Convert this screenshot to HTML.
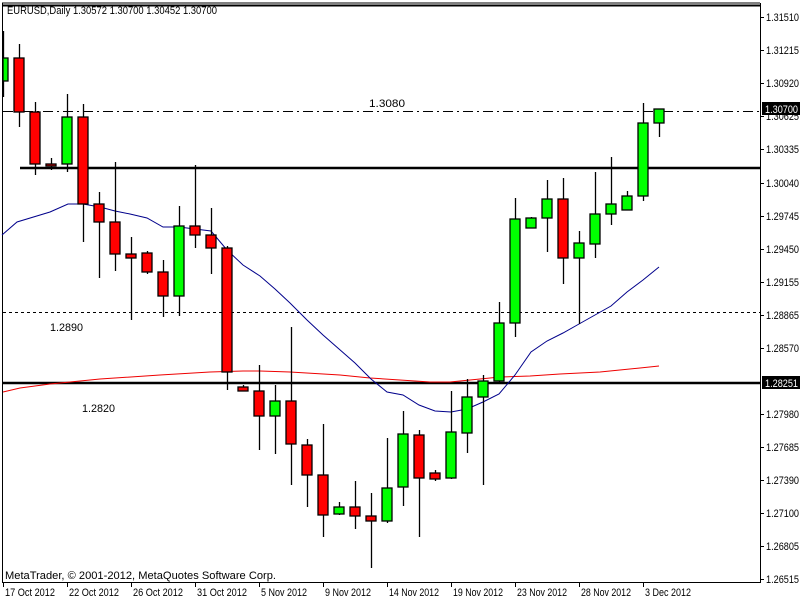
<!DOCTYPE html>
<html><head><meta charset="utf-8"><style>
html,body{margin:0;padding:0;background:#fff;}
svg{display:block;}
text{font-family:"Liberation Sans",sans-serif;font-size:11px;fill:#000;}
</style></head><body>
<svg width="800" height="600" viewBox="0 0 800 600" xmlns="http://www.w3.org/2000/svg">
<rect x="0" y="0" width="800" height="600" fill="#fff"/>
<line x1="2" y1="3" x2="760" y2="3" stroke="#000" stroke-width="1"/>
<line x1="2" y1="5.5" x2="760" y2="5.5" stroke="#000" stroke-width="2"/>
<line x1="2.5" y1="3" x2="2.5" y2="582" stroke="#000"/>
<line x1="760.5" y1="3" x2="760.5" y2="582" stroke="#000"/>
<line x1="2" y1="582.5" x2="761" y2="582.5" stroke="#000"/>
<line x1="3" y1="111.5" x2="760" y2="111.5" stroke="#000" stroke-dasharray="10,4,2,4"/>
<line x1="20" y1="168" x2="760" y2="168" stroke="#000" stroke-width="2.5"/>
<line x1="3" y1="312.5" x2="760" y2="312.5" stroke="#000" stroke-dasharray="3,3"/>
<line x1="3" y1="383" x2="760" y2="383" stroke="#000" stroke-width="2.5"/>
<text x="369" y="107" textLength="36" lengthAdjust="spacingAndGlyphs">1.3080</text>
<text x="50" y="331" textLength="33" lengthAdjust="spacingAndGlyphs">1.2890</text>
<text x="82" y="412" textLength="33" lengthAdjust="spacingAndGlyphs">1.2820</text>
<polyline fill="none" stroke="#e00" stroke-width="1" points="3,392 20,388 50,384 100,379 160,375 210,372 243,371 260,371 290,372 340,375 370,378 400,380 430,382 450,382 470,380 500,377 530,376 560,374 600,372 640,368 659,366"/>
<polyline fill="none" stroke="#00008b" stroke-width="1" points="2,235 17,222 50,212 68,204 83,204 100,207 115,211 130,214 147,218 163,227 179,227 195,229 211,231 227,250 243,265 260,276 275,289 290,303 307,320 323,335 339,349 355,363 371,379 387,392 403,395 419,405 435,411 451,412 467,409 483,402 499,394 515,375 531,352 547,341 563,333 579,324 595,315 611,306 627,292 643,280 659,267"/>
<g stroke="#000" stroke-width="1.3" id="c"></g>
<text x="7" y="14" textLength="210" lengthAdjust="spacingAndGlyphs">EURUSD,Daily  1.30572 1.30700 1.30452 1.30700</text>
<text x="5" y="579" textLength="271" lengthAdjust="spacingAndGlyphs">MetaTrader, © 2001-2012, MetaQuotes Software Corp.</text>
<g id="ax"></g>
<rect x="762" y="102" width="38" height="13" fill="#000"/>
<text x="765" y="113" style="fill:#fff" textLength="33" lengthAdjust="spacingAndGlyphs">1.30700</text>
<rect x="762" y="376" width="38" height="13" fill="#000"/>
<text x="765" y="387" style="fill:#fff" textLength="33" lengthAdjust="spacingAndGlyphs">1.28251</text>
<g id="dx"></g>
</svg>
<script>
var C=[[3,58,81,31,97,1],[19,58,112,44,127,0],[35,112,164,102,175,0],[51,164,166,158,170,0],[67,117,164,94,172,1],[83,117,204,104,242,0],[99,204,222,192,278,0],[115,222,254,162,271,0],[131,254,258,237,320,0],[147,253,272,251,274,0],[163,272,296,260,317,0],[179,226,296,206,316,1],[195,226,235,165,248,0],[211,235,248,208,274,0],[227,248,372,246,390,0],[243,387,391,385,391,0],[259,391,416,365,450,0],[275,401,416,385,454,1],[291,401,444,327,485,0],[307,445,475,439,507,0],[323,475,515,424,537,0],[339,507,514,502,515,1],[355,507,516,481,529,0],[371,516,521,493,568,0],[387,488,521,438,523,1],[403,434,487,411,506,1],[419,435,478,430,537,0],[435,473,479,470,481,0],[451,432,478,391,479,1],[467,397,433,379,453,1],[483,381,397,375,485,1],[499,323,381,302,382,1],[515,219,323,198,337,1],[531,218,228,217,228,1],[547,199,218,180,252,1],[563,199,258,178,284,0],[579,243,258,231,324,1],[595,214,244,172,258,1],[611,204,214,157,225,1],[627,196,210,191,210,1],[643,123,196,103,201,1],[659,109,123,109,137,1]];
var ns="http://www.w3.org/2000/svg",g=document.getElementById("c");
function el(t,a,p){var e=document.createElementNS(ns,t);for(var k in a)e.setAttribute(k,a[k]);(p||g).appendChild(e);return e;}
C.forEach(function(c){var x=c[0]+0.5;
el("line",{x1:x,y1:c[3],x2:x,y2:c[4]});
var h=Math.max(c[2]-c[1],1.5);
el("rect",{x:Math.max(c[0]-5,3),y:c[1],width:c[0]-5<3?c[0]+5-3:10,height:h,fill:c[5]?"#00ff00":"#ff0000"});});
var ax=document.getElementById("ax");
[["1.31510",17],["1.31215",50],["1.30920",83],["1.30625",116],["1.30335",149],["1.30040",183],["1.29745",216],["1.29450",249],["1.29155",282],["1.28865",315],["1.28570",348],["1.27980",414],["1.27685",447],["1.27390",480],["1.27100",513],["1.26805",546],["1.26515",579]].forEach(function(l){
el("line",{x1:760,y1:l[1]+0.5,x2:764,y2:l[1]+0.5,stroke:"#000"},ax);
var t=el("text",{x:766,y:l[1]+4,textLength:33,lengthAdjust:"spacingAndGlyphs"},ax);t.textContent=l[0];});
var dx=document.getElementById("dx");
[["17 Oct 2012",3,50],["22 Oct 2012",67,50],["26 Oct 2012",131,50],["31 Oct 2012",195,50],["5 Nov 2012",259,46],["9 Nov 2012",323,46],["14 Nov 2012",387,50],["19 Nov 2012",451,50],["23 Nov 2012",515,50],["28 Nov 2012",579,50],["3 Dec 2012",643,46]].forEach(function(d){
el("line",{x1:d[1]+0.5,y1:582,x2:d[1]+0.5,y2:587,stroke:"#000"},dx);
var t=el("text",{x:d[1]+2,y:596,textLength:d[2],lengthAdjust:"spacingAndGlyphs"},dx);t.textContent=d[0];});
</script>
</body></html>
